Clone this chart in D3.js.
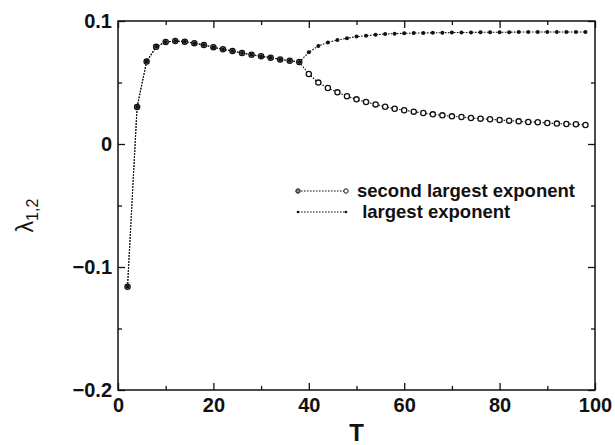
<!DOCTYPE html>
<html>
<head>
<meta charset="utf-8">
<script src="https://cdn.jsdelivr.net/npm/d3@7"></script>
<style>
  html, body { margin: 0; padding: 0; background: #fff; }
  svg { display: block; }
</style>
</head>
<body>
<svg id="chart" width="615" height="445"></svg>
<script>
// Lyapunov exponents versus T
const T = [2, 4, 6, 8, 10, 12, 14, 16, 18, 20, 22, 24, 26, 28, 30, 32, 34, 36, 38,
  40, 42, 44, 46, 48, 50, 52, 54, 56, 58, 60, 62, 64, 66, 68, 70, 72, 74, 76, 78,
  80, 82, 84, 86, 88, 90, 92, 94, 96, 98];

const largest = [-0.116, 0.030, 0.067, 0.079, 0.083, 0.0837, 0.0832, 0.0819, 0.0805,
  0.0786, 0.077, 0.0756, 0.074, 0.0726, 0.0713, 0.0702, 0.0688, 0.0677, 0.0667,
  0.0745, 0.0797, 0.0826, 0.0845, 0.086, 0.0873, 0.088, 0.0888, 0.0894, 0.0897,
  0.0900, 0.0902, 0.0903, 0.0904, 0.0905, 0.0906, 0.0907, 0.0907, 0.0908, 0.0908,
  0.0909, 0.0909, 0.0910, 0.0910, 0.0910, 0.0910, 0.0911, 0.0911, 0.0911, 0.0911];

const secondLargest = [-0.116, 0.030, 0.067, 0.079, 0.083, 0.0837, 0.0832, 0.0819, 0.0805,
  0.0786, 0.077, 0.0756, 0.074, 0.0726, 0.0713, 0.0702, 0.0688, 0.0677, 0.0667,
  0.0569, 0.0499, 0.0455, 0.042, 0.0388, 0.0363, 0.0341, 0.0322, 0.0303, 0.0287,
  0.0274, 0.0263, 0.0252, 0.0241, 0.0233, 0.0225, 0.022, 0.0211, 0.0206, 0.0201,
  0.0195, 0.019, 0.0184, 0.0179, 0.0177, 0.0171, 0.0166, 0.0163, 0.016, 0.0155];

const xMajorTicks = [0, 20, 40, 60, 80, 100];
const xMinorTicks = [10, 30, 50, 70, 90];
const yMajorTicks = [-0.2, -0.1, 0, 0.1];
const yMinorTicks = [-0.15, -0.05, 0.05];

const legendLabels = ["second largest exponent", " largest exponent"];

const margin = { left: 118, right: 20, top: 21, bottom: 55 };
const W = 615, H = 445;
const svg = d3.select("#chart");

const x = d3.scaleLinear().domain([0, 100]).range([margin.left, W - margin.right]);
const y = d3.scaleLinear().domain([-0.2, 0.1]).range([H - margin.bottom, margin.top]);

const FONT = "'Liberation Sans', Arial, Helvetica, sans-serif";
const INK = "#111";

function fmtY(d) {
  if (d === 0) return "0";
  const s = d3.format(".1f")(Math.abs(d));
  return (d < 0 ? "\u2212" : "") + s;
}

function styleAxis(g) {
  g.select(".domain").remove();
  g.selectAll(".tick line").attr("stroke", INK).attr("stroke-width", 1.3);
  g.selectAll(".tick text")
    .attr("fill", INK)
    .style("font-family", FONT)
    .style("font-weight", "bold")
    .style("font-size", "20px");
}

// bottom axis (labelled) and top axis (ticks only), ticks pointing inward
svg.append("g").attr("transform", `translate(0,${y(-0.2)})`)
  .call(d3.axisBottom(x).tickValues(xMajorTicks).tickSize(-7).tickPadding(8).tickFormat(d3.format("d")))
  .call(styleAxis);
svg.append("g").attr("transform", `translate(0,${y(-0.2)})`)
  .call(d3.axisBottom(x).tickValues(xMinorTicks).tickSize(-4).tickFormat(""))
  .call(styleAxis);
svg.append("g").attr("transform", `translate(0,${y(0.1)})`)
  .call(d3.axisTop(x).tickValues(xMajorTicks).tickSize(-7).tickFormat(""))
  .call(styleAxis);
svg.append("g").attr("transform", `translate(0,${y(0.1)})`)
  .call(d3.axisTop(x).tickValues(xMinorTicks).tickSize(-4).tickFormat(""))
  .call(styleAxis);

// left axis (labelled) and right axis (ticks only)
svg.append("g").attr("transform", `translate(${x(0)},0)`)
  .call(d3.axisLeft(y).tickValues(yMajorTicks).tickSize(-7).tickPadding(6).tickFormat(fmtY))
  .call(styleAxis);
svg.append("g").attr("transform", `translate(${x(0)},0)`)
  .call(d3.axisLeft(y).tickValues(yMinorTicks).tickSize(-4).tickFormat(""))
  .call(styleAxis);
svg.append("g").attr("transform", `translate(${x(100)},0)`)
  .call(d3.axisRight(y).tickValues(yMajorTicks).tickSize(-7).tickFormat(""))
  .call(styleAxis);
svg.append("g").attr("transform", `translate(${x(100)},0)`)
  .call(d3.axisRight(y).tickValues(yMinorTicks).tickSize(-4).tickFormat(""))
  .call(styleAxis);

// plot frame
svg.append("rect")
  .attr("x", x(0)).attr("y", y(0.1))
  .attr("width", x(100) - x(0)).attr("height", y(-0.2) - y(0.1))
  .attr("fill", "none").attr("stroke", INK).attr("stroke-width", 1.5);

// axis titles
svg.append("text")
  .attr("x", (x(0) + x(100)) / 2).attr("y", 441)
  .attr("text-anchor", "middle")
  .style("font-family", FONT).style("font-weight", "bold").style("font-size", "24px")
  .attr("fill", INK).text("T");

const yTitle = svg.append("text")
  .attr("transform", `translate(33,${(y(0.1) + y(-0.2)) / 2 + 10}) rotate(-90)`)
  .attr("text-anchor", "middle")
  .style("font-family", FONT).attr("fill", INK);
yTitle.append("tspan").style("font-size", "23px").text("\u03bb");
yTitle.append("tspan").style("font-size", "16px").attr("dy", 5).text("1,2");

// series
const line = d3.line().x(d => x(d[0])).y(d => y(d[1]));
const secondPts = T.map((t, i) => [t, secondLargest[i]]);
const largestPts = T.map((t, i) => [t, largest[i]]);

function drawLine(pts) {
  svg.append("path").datum(pts)
    .attr("d", line)
    .attr("fill", "none").attr("stroke", INK)
    .attr("stroke-width", 1.1).attr("stroke-dasharray", "1.6,1.4");
}

drawLine(secondPts);
drawLine(largestPts);

svg.append("g").selectAll("circle").data(secondPts).join("circle")
  .attr("cx", d => x(d[0])).attr("cy", d => y(d[1])).attr("r", 2.6)
  .attr("fill", "#fff").attr("stroke", INK).attr("stroke-width", 1.3);

svg.append("g").selectAll("circle").data(largestPts).join("circle")
  .attr("cx", d => x(d[0])).attr("cy", d => y(d[1])).attr("r", 2.0)
  .attr("fill", INK);

// legend
const legend = svg.append("g");
const legendRows = [
  { label: legendLabels[0], yPos: 191, open: true },
  { label: legendLabels[1], yPos: 212, open: false }
];
legendRows.forEach(row => {
  legend.append("line")
    .attr("x1", 298).attr("x2", 346).attr("y1", row.yPos).attr("y2", row.yPos)
    .attr("stroke", INK).attr("stroke-width", 1).attr("stroke-dasharray", "1.6,1.4");
  [298, 346].forEach((cx, k) => {
    if (row.open) {
      legend.append("circle").attr("cx", cx).attr("cy", row.yPos).attr("r", 2.2)
        .attr("fill", k === 0 ? "#888" : "#fff").attr("stroke", INK).attr("stroke-width", 1);
    } else {
      legend.append("circle").attr("cx", cx).attr("cy", row.yPos).attr("r", 1.3).attr("fill", INK);
    }
  });
  legend.append("text")
    .attr("x", 357).attr("y", row.yPos + 6)
    .style("font-family", FONT).style("font-weight", "bold").style("font-size", "18.5px")
    .style("white-space", "pre")
    .attr("fill", INK).text(row.label);
});
</script>
</body>
</html>
